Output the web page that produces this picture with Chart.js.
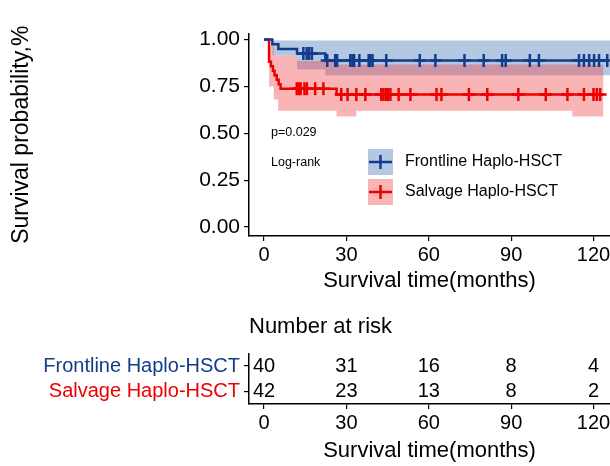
<!DOCTYPE html>
<html>
<head>
<meta charset="utf-8">
<script src="https://cdn.jsdelivr.net/npm/chart.js@4.4.0/dist/chart.umd.min.js"></script>
<style>
  html, body { margin: 0; padding: 0; background: #fff; }
  #km { position: absolute; left: 0; top: 0; width: 610px; height: 300px; }
  #risk { position: absolute; left: 0; top: 300px; width: 610px; height: 166px; }
</style>
</head>
<body>
<div id="km"><canvas id="kmChart"></canvas></div>
<div id="risk"><canvas id="riskChart"></canvas></div>
<script>
// groups
const GROUPS = ["Frontline Haplo-HSCT", "Salvage Haplo-HSCT"];

// Kaplan-Meier steps (months, survival)
const FRONT_TIME = [0, 3.0, 5.2, 12.0, 22.3, 125.5];
const FRONT_SURV = [1, 0.975, 0.95, 0.925, 0.888, 0.888];
const SALV_TIME = [0, 1.8, 2.5, 3.2, 3.8, 4.6, 5.3, 6.0, 26.4, 123.6];
const SALV_SURV = [1, 0.881, 0.857, 0.833, 0.81, 0.786, 0.762, 0.738, 0.707, 0.707];

// censored observations (months)
const FRONT_CENSOR = [14.3, 15.5, 16.4, 17.4, 23.0, 25.9, 26.6, 31.4, 32.2, 32.8, 34.7, 38.1, 38.7, 39.5,
  44.5, 56.7, 62.4, 73.0, 80.0, 86.7, 88.0, 96.8, 100.1, 114.7, 116.5, 118.4, 120.2, 122.0, 125.0];
const SALV_CENSOR = [11.9, 12.6, 13.3, 14.7, 15.6, 18.6, 21.6, 28.1, 30.4, 33.6, 36.9, 42.7, 43.5, 44.4,
  45.1, 46.0, 49.0, 53.3, 62.8, 64.6, 74.6, 81.3, 92.6, 102.6, 110.5, 116.5, 120.0, 121.2, 122.4];

// confidence bands (step)
const FRONT_CI_TIME = [3.0, 12.0, 22.3, 126];
const FRONT_CI_UP = [0.995, 0.995, 0.995, 0.995];
const FRONT_CI_LOW = [0.915, 0.84, 0.81, 0.81];
const SALV_CI_TIME = [1.8, 3.5, 5.1, 12.0, 26.4, 33.6, 112.3, 123.6];
const SALV_CI_UP = [0.97, 0.915, 0.915, 0.885, 0.867, 0.867, 0.867, 0.867];
const SALV_CI_LOW = [0.75, 0.68, 0.62, 0.62, 0.589, 0.62, 0.589, 0.589];

// number at risk
const RISK_TIME = [0, 30, 60, 90, 120];
const FRONT_RISK = [40, 31, 16, 8, 4];
const SALV_RISK = [42, 23, 13, 8, 2];

const X_TICKS = [0, 30, 60, 90, 120];
const Y_TICKS = [0, 0.25, 0.5, 0.75, 1];

const BLUE = "#123c8c";
const RED = "#ee0000";
const BLUE_BAND = "rgba(60,110,180,0.38)";
const RED_BAND = "rgba(240,60,60,0.38)";
const FONT = '"Liberation Sans", Arial, sans-serif';

Chart.defaults.font.family = FONT;
Chart.defaults.color = "#000";

function pts(xs, ys) {
  return xs.map((x, i) => ({ x: x, y: ys[i] }));
}
// survival value at time t (for censor marks)
function survAt(xs, ys, t) {
  let v = ys[0];
  xs.forEach((x, i) => { if (x <= t) v = ys[i]; });
  return v;
}
function censorPts(cs, xs, ys) {
  return cs.map(t => ({ x: t, y: survAt(xs, ys, t) }));
}

function xScale(boxHeight, titlePad) {
  return {
    type: "linear",
    min: -5.5,
    max: 126,
    afterBuildTicks: s => { s.ticks = X_TICKS.map(v => ({ value: v })); },
    afterFit: s => { s.height = boxHeight; s.paddingLeft = 0; s.paddingRight = 0; },
    ticks: { font: { size: 20 }, padding: 2, color: "#000", maxRotation: 0, autoSkip: false },
    grid: { drawOnChartArea: false, drawTicks: true, tickLength: 5, color: "#000", lineWidth: 1.2 },
    border: { display: true, color: "#000", width: 1.5 },
    title: { display: true, text: "Survival time(months)", font: { size: 22 }, padding: { top: 0, bottom: titlePad }, color: "#000" }
  };
}

// legend + p-value annotations
const kmNotes = {
  id: "kmNotes",
  afterDraw(chart) {
    const ctx = chart.ctx;
    ctx.save();
    ctx.fillStyle = "#000";
    ctx.font = "12.5px " + FONT;
    ctx.textAlign = "left";
    ctx.textBaseline = "middle";
    ctx.fillText("p=0.029", 271, 133);
    ctx.fillText("Log-rank", 271, 163);

    const items = [
      { y: 149, band: BLUE_BAND, line: BLUE, label: GROUPS[0] },
      { y: 179, band: RED_BAND, line: RED, label: GROUPS[1] }
    ];
    items.forEach(it => {
      ctx.fillStyle = it.band;
      ctx.fillRect(368, it.y, 25, 26);
      ctx.strokeStyle = it.line;
      ctx.lineWidth = 2.5;
      ctx.beginPath();
      ctx.moveTo(369, it.y + 13);
      ctx.lineTo(392, it.y + 13);
      ctx.moveTo(380.5, it.y + 6);
      ctx.lineTo(380.5, it.y + 20);
      ctx.stroke();
      ctx.fillStyle = "#000";
      ctx.font = "16px " + FONT;
      ctx.fillText(it.label, 405, it.y + 13);
    });
    ctx.restore();
  }
};

new Chart(document.getElementById("kmChart"), {
  type: "line",
  data: {
    datasets: [
      { data: pts(FRONT_TIME, FRONT_SURV), borderColor: BLUE, borderWidth: 2.5, stepped: true, pointRadius: 0, fill: false, order: 0 },
      { data: pts(SALV_TIME, SALV_SURV), borderColor: RED, borderWidth: 2.5, stepped: true, pointRadius: 0, fill: false, order: 0 },
      { data: censorPts(FRONT_CENSOR, FRONT_TIME, FRONT_SURV), showLine: false, pointStyle: "cross", pointRadius: 6.5,
        pointBorderWidth: 2.5, borderColor: BLUE, order: 0 },
      { data: censorPts(SALV_CENSOR, SALV_TIME, SALV_SURV), showLine: false, pointStyle: "cross", pointRadius: 6.5,
        pointBorderWidth: 2.5, borderColor: RED, order: 0 },
      { data: pts(FRONT_CI_TIME, FRONT_CI_UP), borderColor: "rgba(0,0,0,0)", borderWidth: 0, stepped: true, pointRadius: 0,
        fill: "+1", backgroundColor: BLUE_BAND, order: 2 },
      { data: pts(FRONT_CI_TIME, FRONT_CI_LOW), borderColor: "rgba(0,0,0,0)", borderWidth: 0, stepped: true, pointRadius: 0,
        fill: false, order: 2 },
      { data: pts(SALV_CI_TIME, SALV_CI_UP), borderColor: "rgba(0,0,0,0)", borderWidth: 0, stepped: true, pointRadius: 0,
        fill: "+1", backgroundColor: RED_BAND, order: 1 },
      { data: pts(SALV_CI_TIME, SALV_CI_LOW), borderColor: "rgba(0,0,0,0)", borderWidth: 0, stepped: true, pointRadius: 0,
        fill: false, order: 1 }
    ]
  },
  options: {
    responsive: true,
    maintainAspectRatio: false,
    animation: false,
    layout: { autoPadding: false, padding: { top: 33.5, left: 0, right: 0, bottom: 0 } },
    plugins: { legend: { display: false }, tooltip: { enabled: false } },
    scales: {
      x: xScale(64, 6),
      y: {
        min: -0.048,
        max: 1.032,
        afterBuildTicks: s => { s.ticks = Y_TICKS.map(v => ({ value: v })); },
        afterFit: s => { s.width = 249; s.paddingTop = 0; s.paddingBottom = 0; },
        ticks: { font: { size: 21 }, padding: 4, color: "#000", callback: v => v.toFixed(2) },
        grid: { drawOnChartArea: false, drawTicks: true, tickLength: 5, color: "#000", lineWidth: 1.2 },
        border: { display: true, color: "#000", width: 1.5 },
        title: { display: true, text: "Survival probability,%", font: { size: 23 }, padding: { top: 8, bottom: 0 }, color: "#000" }
      }
    }
  },
  plugins: [kmNotes]
});

// risk table numbers
const riskNumbers = {
  id: "riskNumbers",
  afterDatasetsDraw(chart) {
    const ctx = chart.ctx;
    const xs = chart.scales.x, ys = chart.scales.y;
    ctx.save();
    ctx.fillStyle = "#000";
    ctx.font = "20px " + FONT;
    ctx.textAlign = "center";
    ctx.textBaseline = "middle";
    [FRONT_RISK, SALV_RISK].forEach((row, r) => {
      row.forEach((n, i) => {
        ctx.fillText(String(n), xs.getPixelForValue(RISK_TIME[i]), ys.getPixelForValue(r));
      });
    });
    ctx.restore();
  }
};

new Chart(document.getElementById("riskChart"), {
  type: "scatter",
  data: { datasets: [{ data: [], pointRadius: 0 }] },
  options: {
    responsive: true,
    maintainAspectRatio: false,
    animation: false,
    layout: { autoPadding: false, padding: 0 },
    plugins: {
      legend: { display: false },
      tooltip: { enabled: false },
      title: { display: true, text: "Number at risk", align: "start", fullSize: false, font: { size: 22, weight: "normal" },
        padding: { top: 14, bottom: 13 }, color: "#000" }
    },
    scales: {
      x: xScale(62, 2),
      y: {
        type: "category",
        labels: GROUPS,
        offset: true,
        afterFit: s => { s.width = 249; s.paddingTop = 0; s.paddingBottom = 0; },
        ticks: { font: { size: 20 }, padding: 4, autoSkip: false, color: c => (c.index === 0 ? BLUE : RED) },
        grid: { drawOnChartArea: false, drawTicks: true, tickLength: 5, color: "#000", lineWidth: 1.2, offset: false },
        border: { display: true, color: "#000", width: 1.5 }
      }
    }
  },
  plugins: [riskNumbers]
});
</script>
</body>
</html>
